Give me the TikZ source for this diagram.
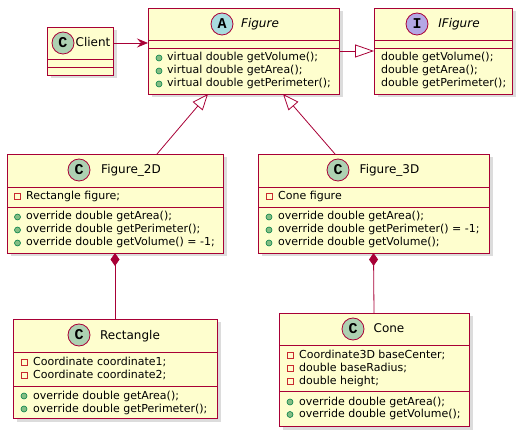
\documentclass[tikz,border=0pt]{standalone}
\usepackage{fontspec}
\setmainfont{DejaVu Sans}
\newfontfamily\badgefont{Liberation Mono}
\usetikzlibrary{arrows.meta,shadows}

\definecolor{umlfill}{HTML}{FEFECE}
\definecolor{umlline}{HTML}{A80036}
\definecolor{cgreen}{HTML}{ADD1B2}
\definecolor{ablue}{HTML}{A9DCDF}
\definecolor{ipurple}{HTML}{B4A7E5}
\definecolor{pubfill}{HTML}{84BE84}
\definecolor{publine}{HTML}{038048}
\definecolor{privline}{HTML}{C82930}

\tikzset{
  classbox/.style={draw=umlline,fill=umlfill,line width=.9pt,anchor=north west,inner sep=0pt,outer sep=0pt,
    drop shadow={shadow xshift=3.5pt,shadow yshift=-3.5pt,fill=black!45,opacity=.3}},
  sepline/.style={draw=umlline,line width=.8pt},
  badge/.style={circle,draw=umlline,line width=.8pt,minimum size=22pt,inner sep=0pt,
    font=\badgefont\bfseries\fontsize{15}{15}\selectfont},
  cname/.style={inner sep=0pt,font=\fontsize{12}{14}\selectfont,text height=10pt,text depth=2pt},
  member/.style={anchor=west,inner sep=0pt,font=\fontsize{11}{13}\selectfont,text height=8pt,text depth=2pt},
  pub/.style={circle,fill=pubfill,draw=publine,line width=.6pt,minimum size=6pt,inner sep=0pt},
  priv/.style={rectangle,draw=privline,line width=.8pt,minimum size=6pt,inner sep=0pt},
  link/.style={draw=umlline,line width=.8pt},
}

\begin{document}
\begin{tikzpicture}[x=1pt,y=-1pt]
\useasboundingbox (0,0) rectangle (527,435);

% class boxes
\node[classbox,minimum width=66pt,minimum height=48pt] (client) at (47,27) {};
\node[classbox,minimum width=191pt,minimum height=86pt] (fig) at (148,8) {};
\node[classbox,minimum width=138pt,minimum height=86pt] (ifig) at (374,8) {};
\node[classbox,minimum width=216pt,minimum height=99pt] (f2d) at (7,154) {};
\node[classbox,minimum width=231pt,minimum height=99pt] (f3d) at (258,154) {};
\node[classbox,minimum width=204pt,minimum height=99pt] (rect) at (13,319) {};
\node[classbox,minimum width=190pt,minimum height=113pt] (cone) at (279,313) {};

% separators
\draw[sepline] (client.west |- 0,59) -- (client.east |- 0,59);
\draw[sepline] (client.west |- 0,67) -- (client.east |- 0,67);
\draw[sepline] (fig.west |- 0,40) -- (fig.east |- 0,40);
\draw[sepline] (fig.west |- 0,48) -- (fig.east |- 0,48);
\draw[sepline] (ifig.west |- 0,40) -- (ifig.east |- 0,40);
\draw[sepline] (ifig.west |- 0,48) -- (ifig.east |- 0,48);
\draw[sepline] (f2d.west |- 0,187) -- (f2d.east |- 0,187);
\draw[sepline] (f2d.west |- 0,207) -- (f2d.east |- 0,207);
\draw[sepline] (f3d.west |- 0,187) -- (f3d.east |- 0,187);
\draw[sepline] (f3d.west |- 0,207) -- (f3d.east |- 0,207);
\draw[sepline] (rect.west |- 0,352) -- (rect.east |- 0,352);
\draw[sepline] (rect.west |- 0,386) -- (rect.east |- 0,386);
\draw[sepline] (cone.west |- 0,345) -- (cone.east |- 0,345);
\draw[sepline] (cone.west |- 0,391) -- (cone.east |- 0,391);

% headers
\node[badge,fill=cgreen] (clientB) at (63,43) {C};
\node[cname] (clientN) at (93,43) {Client};
\node[badge,fill=ablue] (figB) at (222,24) {A};
\node[cname] (figN) at (260,24) {\itshape Figure};
\node[badge,fill=ipurple] (ifigB) at (417,24) {I};
\node[cname] (ifigN) at (459,24) {\itshape IFigure};
\node[badge,fill=cgreen] (f2dB) at (79,170) {C};
\node[cname] (f2dN) at (131,170) {Figure\_2D};
\node[badge,fill=cgreen] (f3dB) at (338,170) {C};
\node[cname] (f3dN) at (389.5,170) {Figure\_3D};
\node[badge,fill=cgreen] (rectB) at (79,335) {C};
\node[cname] (rectN) at (130,335) {Rectangle};
\node[badge,fill=cgreen] (coneB) at (353,329) {C};
\node[cname] (coneN) at (389,329) {Cone};

% Figure
\node[pub] (figP1) at (159,58) {};
\node[member] (figM1) at (167,58) {virtual double getVolume();};
\node[pub] (figP2) at (159,71) {};
\node[member] (figM2) at (167,71) {virtual double getArea();};
\node[pub] (figP3) at (159,84) {};
\node[member] (figM3) at (167,84) {virtual double getPerimeter();};

% IFigure
\node[member] (ifigM1) at (381,58) {double getVolume();};
\node[member] (ifigM2) at (381,71) {double getArea();};
\node[member] (ifigM3) at (381,84) {double getPerimeter();};

% Figure_2D
\node[priv] (f2dQ1) at (17.5,196.5) {};
\node[member] (f2dA1) at (26,196.5) {Rectangle figure;};
\node[pub] (f2dP1) at (17.5,217) {};
\node[member] (f2dM1) at (26,217) {override double getArea();};
\node[pub] (f2dP2) at (17.5,230) {};
\node[member] (f2dM2) at (26,230) {override double getPerimeter();};
\node[pub] (f2dP3) at (17.5,243) {};
\node[member] (f2dM3) at (26,243) {override double getVolume() = -1;};

% Figure_3D
\node[priv] (f3dQ1) at (269,196.5) {};
\node[member] (f3dA1) at (278,196.5) {Cone figure};
\node[pub] (f3dP1) at (269,217) {};
\node[member] (f3dM1) at (278,217) {override double getArea();};
\node[pub] (f3dP2) at (269,230) {};
\node[member] (f3dM2) at (278,230) {override double getPerimeter() = -1;};
\node[pub] (f3dP3) at (269,243) {};
\node[member] (f3dM3) at (278,243) {override double getVolume();};

% Rectangle
\node[priv] (rectQ1) at (24,362) {};
\node[member] (rectA1) at (33,362) {Coordinate coordinate1;};
\node[priv] (rectQ2) at (24,375) {};
\node[member] (rectA2) at (33,375) {Coordinate coordinate2;};
\node[pub] (rectP1) at (24,396) {};
\node[member] (rectM1) at (33,396) {override double getArea();};
\node[pub] (rectP2) at (24,409) {};
\node[member] (rectM2) at (33,409) {override double getPerimeter();};

% Cone
\node[priv] (coneQ1) at (290,355.5) {};
\node[member] (coneA1) at (299,355.5) {Coordinate3D baseCenter;};
\node[priv] (coneQ2) at (290,368.5) {};
\node[member] (coneA2) at (299,368.5) {double baseRadius;};
\node[priv] (coneQ3) at (290,381) {};
\node[member] (coneA3) at (299,381) {double height;};
\node[pub] (coneP1) at (290,402) {};
\node[member] (coneM1) at (299,402) {override double getArea();};
\node[pub] (coneP2) at (290,414.5) {};
\node[member] (coneM2) at (299,414.5) {override double getVolume();};

% relations
\draw[link,-{Stealth[length=11pt,width=9pt,inset=4pt]}] ([yshift=8pt]client.east) -- ([yshift=8pt]fig.west);
\draw[link,-{Triangle[open,length=19pt,width=13pt]}] (fig.east) -- (ifig.west);
\draw[link,-{Triangle[open,length=16pt,width=13pt]}] ([xshift=42pt]f2d.north) -- ([xshift=-35.5pt]fig.south);
\draw[link,-{Triangle[open,length=16pt,width=13pt]}] ([xshift=-38.5pt]f3d.north) -- ([xshift=39.5pt]fig.south);
\draw[link,{Diamond[length=13pt,width=9pt]}-] (f2d.south) -- (rect.north);
\draw[link,{Diamond[length=13pt,width=9pt]}-] (f3d.south) -- (cone.north);
\end{tikzpicture}
\end{document}
